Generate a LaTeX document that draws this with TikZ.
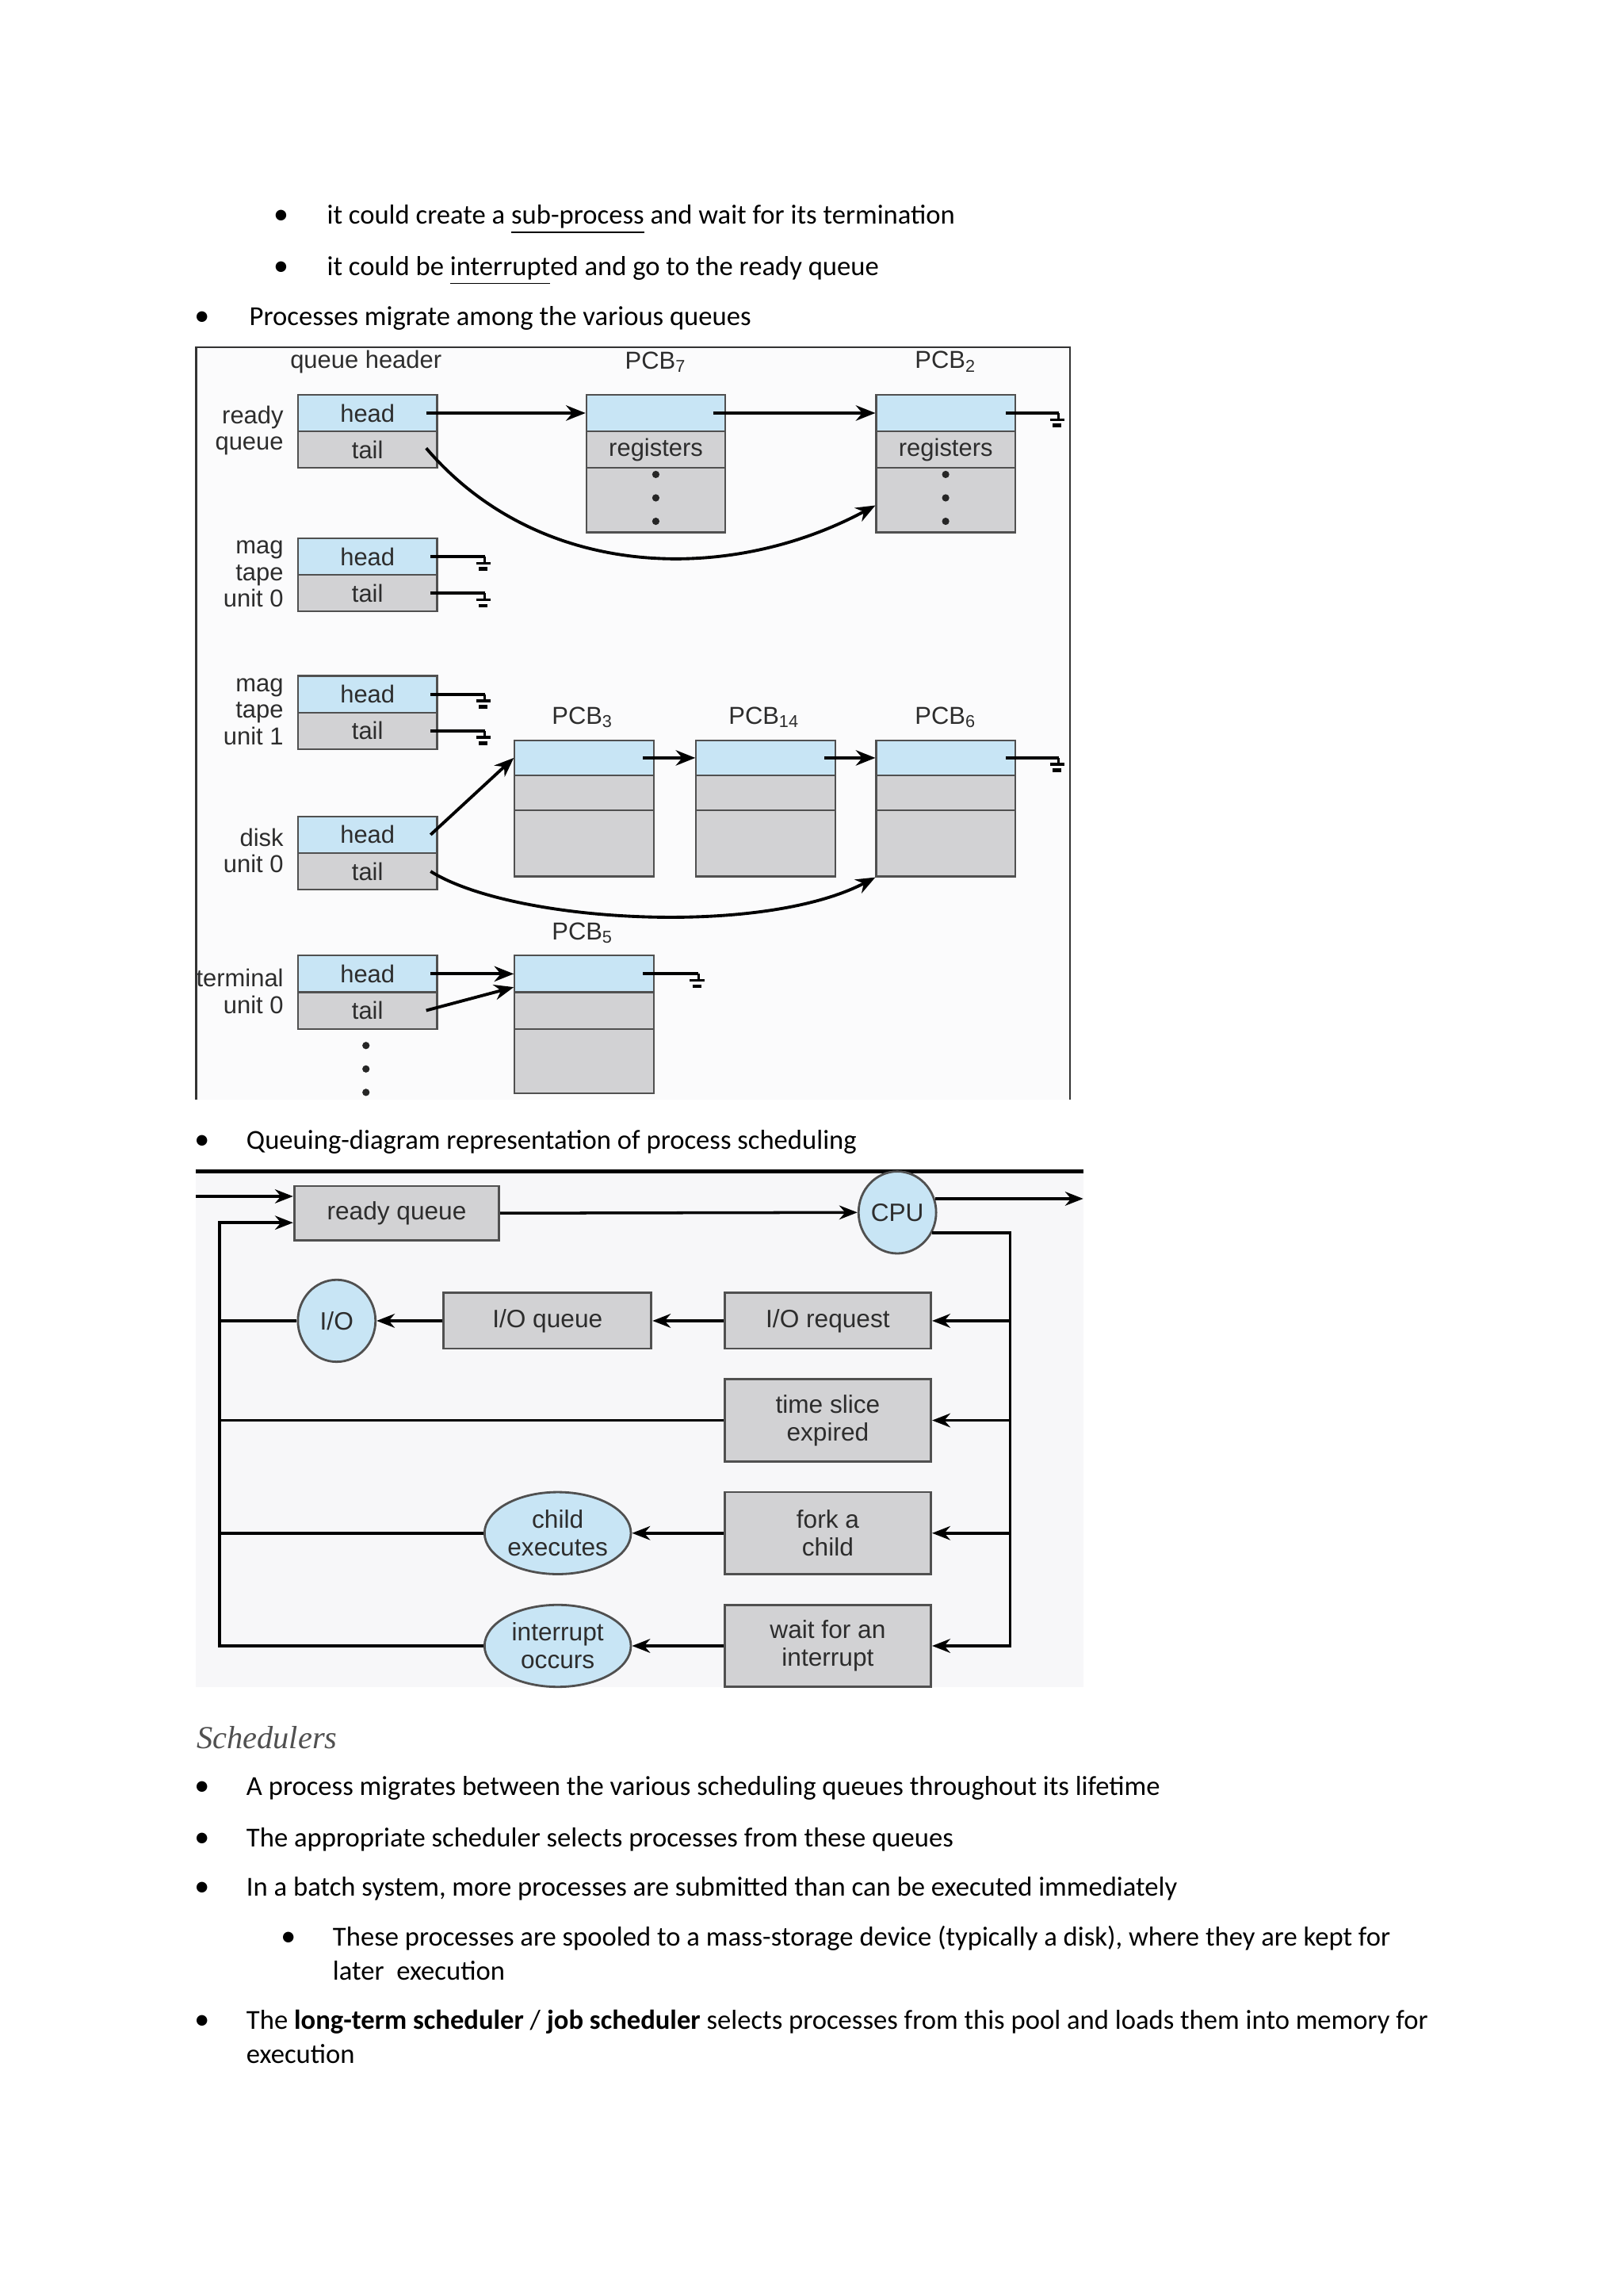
\documentclass[tikz,border=0pt]{standalone}
\usepackage{fontspec}
\setmainfont{Carlito}
\newfontfamily\dgf{Liberation Sans}
\newfontfamily\hdf{Liberation Serif}
\usetikzlibrary{arrows.meta,shapes.geometric,calc}
\newlength\pxu
\setlength\pxu{0.018467cm}
\definecolor{cblue}{RGB}{200,229,245}
\definecolor{cgray}{RGB}{210,210,212}
\definecolor{bdr}{RGB}{80,80,80}
\definecolor{dtxt}{RGB}{45,45,45}
\definecolor{bgone}{RGB}{251,251,252}
\definecolor{bgtwo}{RGB}{247,247,249}
\definecolor{hgray}{RGB}{80,80,80}
\begin{document}
\begin{tikzpicture}[x=0.018467cm, y=-0.018467cm,
  body/.style={anchor=base west, inner sep=0pt, font=\fontsize{9.85}{12}\selectfont},
  bul/.style={anchor=base, inner sep=0pt, font=\fontsize{10.8}{13}\selectfont},
  cell/.style={draw=bdr, line width=0.6pt, anchor=north west, inner sep=0pt, minimum width=95*\pxu, font=\dgf\fontsize{8.8}{10}\selectfont, text=dtxt},
  bc/.style={cell, fill=cblue},
  gc/.style={cell, fill=cgray},
  lbl/.style={font=\dgf\fontsize{8.8}{9.5}\selectfont, text=dtxt, inner sep=0pt, align=right, anchor=east},
  ttl/.style={font=\dgf\fontsize{8.8}{10}\selectfont, text=dtxt, inner sep=0pt},
  conn/.style={line width=1.1pt, -{Stealth[length=7pt,width=5.5pt]}},
  wire/.style={line width=1.1pt},
  gnd/.pic={\draw[line width=1pt] (0,0) -- (0,4.5) (-6,4.5) -- (4,4.5); \draw[line width=1.3pt] (-4,8.5) -- (2,8.5);},
  qbox/.style={draw=bdr, fill=cgray, line width=0.8pt, inner sep=0pt, minimum width=141*\pxu, minimum height=56*\pxu, align=center, font=\dgf\fontsize{9}{10}\selectfont, text=dtxt},
  qell/.style={ellipse, draw=bdr, fill=cblue, line width=0.8pt, inner sep=0pt, align=center, font=\dgf\fontsize{9}{10}\selectfont, text=dtxt},
  qln/.style={line width=1pt},
  qarr/.style={line width=1pt, -{Stealth[length=6.5pt,width=5pt]}}
]
\useasboundingbox (0,0) rectangle (1109,1568);
\fill[white] (0,0) rectangle (1109,1568);

% ---------- top text ----------
\node[bul] (b1) at (192,153) {•};
\node[body] (t1) at (223,153) {it could create a \underline{sub-process} and wait for its termination};
\node[bul] (b2) at (192,188) {•};
\node[body] (t2) at (223,188) {it could be \underline{interrupt}ed and go to the ready queue};
\node[bul] (b3) at (138,222) {•};
\node[body] (t3) at (170,222) {Processes migrate among the various queues};

% ---------- diagram 1 ----------
\fill[bgone] (134,237) rectangle (731,751);
\draw[line width=0.6pt, black!80] (134,751) -- (134,237) -- (731,237) -- (731,751);

\node[ttl] (qh) at (250,247) {queue header};
\node[ttl] (l7) at (448,247) {PCB\textsubscript{7}};
\node[ttl] (l2) at (646,247) {PCB\textsubscript{2}};

\node[lbl] (lrq) at (194,294) {ready\\queue};
\node[lbl] (lm0) at (194,392) {mag\\tape\\unit 0};
\node[lbl] (lm1) at (194,486) {mag\\tape\\unit 1};
\node[lbl] (ld) at (194,581) {disk\\unit 0};
\node[lbl] (lt) at (194,677) {terminal\\unit 0};

\node[bc, minimum height=25*\pxu] (rqh) at (203,269) {head};
\node[gc, minimum height=25*\pxu] (rqt) at (203,294) {tail};
\node[bc, minimum height=25*\pxu] (m0h) at (203,367) {head};
\node[gc, minimum height=25*\pxu] (m0t) at (203,392) {tail};
\node[bc, minimum height=25*\pxu] (m1h) at (203,461) {head};
\node[gc, minimum height=25*\pxu] (m1t) at (203,486) {tail};
\node[bc, minimum height=25*\pxu] (dh) at (203,557) {head};
\node[gc, minimum height=25*\pxu] (dt) at (203,582) {tail};
\node[bc, minimum height=25*\pxu] (th) at (203,652) {head};
\node[gc, minimum height=25*\pxu] (tt) at (203,677) {tail};
\foreach \yy in {714,730,746} \fill[black!85] (250,\yy) circle (2.5);

% PCB7, PCB2
\node[bc, minimum height=25*\pxu] (p7a) at (400,269) {};
\node[gc, minimum height=25*\pxu] (p7b) at (400,294) {registers};
\node[gc, minimum height=44*\pxu] (p7c) at (400,319) {};
\node[bc, minimum height=25*\pxu] (p2a) at (598,269) {};
\node[gc, minimum height=25*\pxu] (p2b) at (598,294) {registers};
\node[gc, minimum height=44*\pxu] (p2c) at (598,319) {};
\foreach \yy in {324,340,356} {\fill[black!85] (448,\yy) circle (2.5); \fill[black!85] (646,\yy) circle (2.5);}

% PCB3, PCB14, PCB6
\node[ttl] (l3) at (398,490) {PCB\textsubscript{3}};
\node[ttl] (l14) at (522,490) {PCB\textsubscript{14}};
\node[ttl] (l6) at (646,490) {PCB\textsubscript{6}};
\node[bc, minimum height=24*\pxu] (p3a) at (351,505) {};
\node[gc, minimum height=24*\pxu] (p3b) at (351,529) {};
\node[gc, minimum height=45*\pxu] (p3c) at (351,553) {};
\node[bc, minimum height=24*\pxu] (p14a) at (475,505) {};
\node[gc, minimum height=24*\pxu] (p14b) at (475,529) {};
\node[gc, minimum height=45*\pxu] (p14c) at (475,553) {};
\node[bc, minimum height=24*\pxu] (p6a) at (598,505) {};
\node[gc, minimum height=24*\pxu] (p6b) at (598,529) {};
\node[gc, minimum height=45*\pxu] (p6c) at (598,553) {};

% PCB5
\node[ttl] (l5) at (398,637) {PCB\textsubscript{5}};
\node[bc, minimum height=25*\pxu] (p5a) at (351,652) {};
\node[gc, minimum height=25*\pxu] (p5b) at (351,677) {};
\node[gc, minimum height=44*\pxu] (p5c) at (351,702) {};

% connectors diagram 1
\draw[conn] (rqh.east) ++(-8,0) -- (p7a.west);
\draw[conn] (p7a.east) ++(-9,0) -- (p2a.west);
\draw[wire] (p2a.east) ++(-7,0) -- ++(36,0) coordinate (g1) pic{gnd};
\draw[conn] (rqt.east) ++(-8,-1) .. controls (370,398) and (500,398) .. ($(p2a.south west)+(0,50)$);
\draw[wire] (m0h.east) ++(-5,0) -- ++(37,0) coordinate (g2) pic{gnd};
\draw[wire] (m0t.east) ++(-5,0) -- ++(37,0) coordinate (g3) pic{gnd};
\draw[wire] (m1h.east) ++(-5,0) -- ++(37,0) coordinate (g4) pic{gnd};
\draw[wire] (m1t.east) ++(-5,0) -- ++(37,0) coordinate (g5) pic{gnd};
\draw[conn] (dh.east) ++(-5,0) -- (p3a.west);
\draw[conn] (p3a.east) ++(-8,0) -- (p14a.west);
\draw[conn] (p14a.east) ++(-8,0) -- (p6a.west);
\draw[wire] (p6a.east) ++(-7,0) -- ++(36,0) coordinate (g6) pic{gnd};
\draw[conn] (dt.east) ++(-5,0) .. controls (350,630) and (520,640) .. (p6c.south west);
\draw[conn] (th.east) ++(-5,0) -- (p5a.west);
\draw[conn] (tt.east) ++(-8,0) -- ($(p5a.south west)+(0,-4)$);
\draw[wire] (p5a.east) ++(-8,0) -- ++(38,0) coordinate (g7) pic{gnd};

% ---------- caption ----------
\node[bul] (b4) at (138,785) {•};
\node[body] (t4) at (168,785) {Queuing-diagram representation of process scheduling};

% ---------- diagram 2 ----------
\fill[bgtwo] (134,801) rectangle (740,1152);
\draw[line width=1.3pt] (134,800) -- (740,800);

\node[qbox, minimum width=140*\pxu, minimum height=37*\pxu] (rq) at (271,828.5) {ready queue};
\node[qell, minimum width=53*\pxu, minimum height=56*\pxu] (cpu) at (613,828) {CPU};
\node[qbox, minimum height=38*\pxu] (ioreq) at (565.5,902) {I/O request};
\node[qbox, minimum width=142*\pxu, minimum height=38*\pxu] (ioq) at (374,902) {I/O queue};
\node[qell, minimum width=53*\pxu, minimum height=56*\pxu] (io) at (230,902) {I/O};
\node[qbox] (ts) at (565.5,970) {time slice\\expired};
\node[qbox] (fork) at (565.5,1047) {fork a\\child};
\node[qell, minimum width=100*\pxu, minimum height=56*\pxu] (child) at (381,1047) {child\\executes};
\node[qbox] (wait) at (565.5,1124) {wait for an\\interrupt};
\node[qell, minimum width=100*\pxu, minimum height=56*\pxu] (intr) at (381,1124) {interrupt\\occurs};

\coordinate (in0) at (134,817);
\coordinate (lp) at (150,835);
\coordinate (rl) at (690,843);
\coordinate (out) at (740,818);

\draw[qarr] (in0) -- (in0 -| rq.west);
\draw[qarr] (intr.west) -| (lp) -- (lp -| rq.west);
\draw[qln] (child.west) -- (child.west -| lp);
\draw[qln] (ts.west) -- (ts.west -| lp);
\draw[qln] (io.west) -- (io.west -| lp);
\draw[qarr] (rq.east) -- (cpu.west);
\draw[qarr] (cpu.20) -- (cpu.20 -| out);
\draw[qarr] (cpu.-30) -| (rl |- wait.east) -- (wait.east);
\draw[qarr] (rl |- ioreq.east) -- (ioreq.east);
\draw[qarr] (rl |- ts.east) -- (ts.east);
\draw[qarr] (rl |- fork.east) -- (fork.east);
\draw[qarr] (ioreq.west) -- (ioq.east);
\draw[qarr] (ioq.west) -- (io.east);
\draw[qarr] (fork.west) -- (child.east);
\draw[qarr] (wait.west) -- (intr.east);

% ---------- Schedulers ----------
\node[anchor=base west, inner sep=0pt, font=\hdf\itshape\fontsize{11.5}{13}\selectfont, text=hgray] (sch) at (134,1194) {Schedulers};
\node[bul] (b5) at (138,1226) {•};
\node[body] (t5) at (168,1226) {A process migrates between the various scheduling queues throughout its lifetime};
\node[bul] (b6) at (138,1261) {•};
\node[body] (t6) at (168,1261) {The appropriate scheduler selects processes from these queues};
\node[bul] (b7) at (138,1295) {•};
\node[body] (t7) at (168,1295) {In a batch system, more processes are submitted than can be executed immediately};
\node[bul] (b8) at (197,1329) {•};
\node[body] (t8) at (227,1329) {These processes are spooled to a mass-storage device (typically a disk), where they are kept for};
\node[body] (t8b) at (227,1352) {later\ \ execution};
\node[bul] (b9) at (138,1386) {•};
\node[body] (t9) at (168,1386) {The \textbf{long-term scheduler} / \textbf{job scheduler} selects processes from this pool and loads them into memory for};
\node[body] (t9b) at (168,1409) {execution};
\end{tikzpicture}
\end{document}
